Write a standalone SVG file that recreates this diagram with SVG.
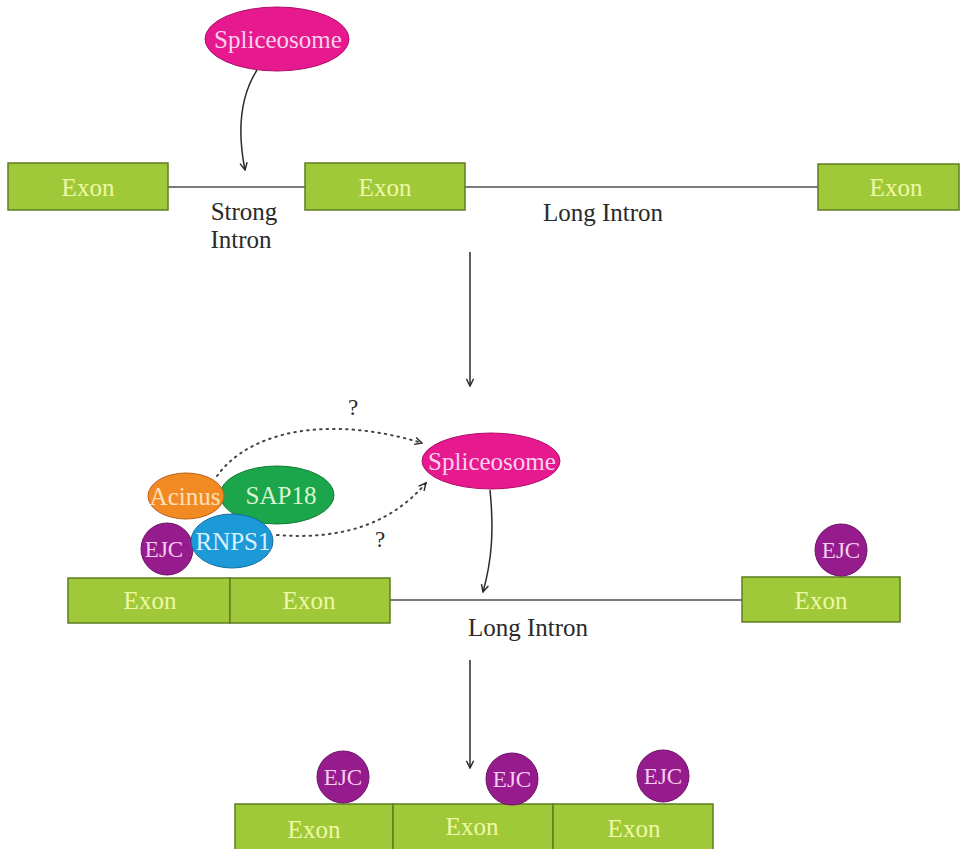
<svg xmlns="http://www.w3.org/2000/svg" width="964" height="849" viewBox="0 0 964 849">
<defs>
<style>
text{font-family:"Liberation Serif","Times New Roman","DejaVu Serif",serif;text-anchor:middle}
.exon rect{fill:#a0c93a;stroke:#5e7d22;stroke-width:1.5}
.exon text{fill:#eef8a6;font-size:25px}
.lbl{fill:#2a2a2a;font-size:25px}
.ejc circle{fill:#961b8d;stroke:#6e1267;stroke-width:1}
.ejc text{fill:#f5cdef;font-size:23px}
.sp ellipse{fill:#e6198f;stroke:#b00d6b;stroke-width:1}
.sp text{fill:#fad0ea;font-size:25px}
.prot text{font-size:25px}
.intron{stroke:#7a7a7a;stroke-width:2;fill:none}
.arr{stroke:#2a2a2a;stroke-width:1.5;fill:none}
.dot{stroke:#444;stroke-width:2;fill:none;stroke-dasharray:1.5 5;stroke-linecap:round}
</style>
<marker id="ah" viewBox="0 0 10 10" refX="9" refY="5" markerWidth="9" markerHeight="9" orient="auto" markerUnits="userSpaceOnUse">
<path d="M1,1 L9,5 L1,9" fill="none" stroke="#2a2a2a" stroke-width="1.6"/>
</marker>
</defs>
<rect width="964" height="849" fill="#ffffff"/>

<g id="connectors">
<line class="intron" x1="168" y1="187" x2="305" y2="187"/>
<line class="intron" x1="465" y1="187" x2="818" y2="187"/>
<line class="intron" x1="390" y1="600" x2="742" y2="600"/>
<path class="arr" d="M257,70 C238,100 238,135 245,170" marker-end="url(#ah)"/>
<line class="arr" x1="470" y1="252" x2="470" y2="386" marker-end="url(#ah)"/>
<path class="arr" d="M490,490 C494,530 492,560 483,592" marker-end="url(#ah)"/>
<line class="arr" x1="470" y1="660" x2="470" y2="768" marker-end="url(#ah)"/>
<path class="dot" d="M217,476 C250,430 330,415 422,443" marker-end="url(#ah)"/>
<path class="dot" d="M277,535 C340,540 390,525 426,483" marker-end="url(#ah)"/>
</g>

<g id="spliceosome-top" class="sp">
<ellipse cx="277" cy="39" rx="72" ry="32"/>
<text x="278" y="48">Spliceosome</text>
</g>

<g id="exon-top-1" class="exon"><rect x="8" y="163" width="160" height="47"/><text x="88" y="196">Exon</text></g>
<g id="exon-top-2" class="exon"><rect x="305" y="163" width="160" height="47"/><text x="385" y="196">Exon</text></g>
<g id="exon-top-3" class="exon"><rect x="818" y="164" width="141" height="46"/><text x="896" y="196">Exon</text></g>

<g id="label-strong-intron">
<text class="lbl" x="244" y="220">Strong</text>
<text class="lbl" x="241" y="248">Intron</text>
</g>
<g id="label-long-intron-top"><text class="lbl" x="603" y="221">Long Intron</text></g>

<g id="spliceosome-mid" class="sp">
<ellipse cx="491" cy="461" rx="69" ry="28"/>
<text x="492" y="470">Spliceosome</text>
</g>

<g id="q1"><text class="lbl" x="353" y="415" style="font-size:23px">?</text></g>
<g id="q2"><text class="lbl" x="380" y="547" style="font-size:23px">?</text></g>

<g id="sap18" class="prot">
<ellipse cx="277" cy="495" rx="57" ry="29" fill="#1ca64b" stroke="#107a33"/>
<text x="281" y="504" fill="#d8f5d0">SAP18</text>
</g>
<g id="acinus" class="prot">
<ellipse cx="186" cy="496" rx="38" ry="23" fill="#f28a24" stroke="#b8601a"/>
<text x="185" y="505" fill="#fde0b8">Acinus</text>
</g>
<g id="ejc-mid-left" class="ejc">
<circle cx="167" cy="549" r="26"/>
<text x="164" y="557">EJC</text>
</g>
<g id="rnps1" class="prot">
<ellipse cx="232" cy="541" rx="41" ry="27" fill="#1c9ad8" stroke="#136e9e"/>
<text x="233" y="550" fill="#d8f0ff">RNPS1</text>
</g>

<g id="exon-mid-1" class="exon"><rect x="68" y="578" width="162" height="45"/><text x="150" y="609">Exon</text></g>
<g id="exon-mid-2" class="exon"><rect x="230" y="578" width="160" height="45"/><text x="309" y="609">Exon</text></g>
<g id="exon-mid-3" class="exon"><rect x="742" y="577" width="158" height="45"/><text x="821" y="609">Exon</text></g>
<g id="ejc-mid-right" class="ejc"><circle cx="841" cy="550" r="26"/><text x="841" y="558">EJC</text></g>
<g id="label-long-intron-mid"><text class="lbl" x="528" y="636">Long Intron</text></g>

<g id="exon-bot-1" class="exon"><rect x="235" y="804" width="158" height="50"/><text x="314" y="838">Exon</text></g>
<g id="exon-bot-2" class="exon"><rect x="393" y="804" width="160" height="50"/><text x="472" y="835">Exon</text></g>
<g id="exon-bot-3" class="exon"><rect x="553" y="804" width="160" height="50"/><text x="634" y="837">Exon</text></g>
<g id="ejc-bot-1" class="ejc"><circle cx="343" cy="777" r="26"/><text x="343" y="785">EJC</text></g>
<g id="ejc-bot-2" class="ejc"><circle cx="512" cy="779" r="26"/><text x="512" y="787">EJC</text></g>
<g id="ejc-bot-3" class="ejc"><circle cx="663" cy="776" r="26"/><text x="663" y="784">EJC</text></g>
</svg>
